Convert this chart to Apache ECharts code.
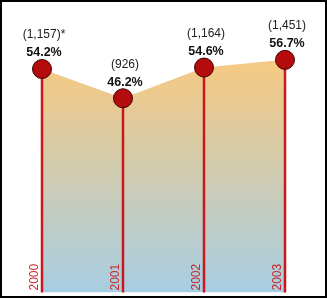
<!DOCTYPE html>
<html>
<head>
<meta charset="utf-8">
<script src="https://cdn.jsdelivr.net/npm/echarts@6/dist/echarts.min.js"></script>
<style>
html,body{margin:0;padding:0;background:#fff;}
#frame{position:absolute;left:0;top:0;width:327px;height:298px;border:2px solid #000;box-sizing:border-box;}
#chart{position:absolute;left:0;top:0;width:327px;height:300px;}
</style>
</head>
<body>
<div id="chart"></div>
<div id="frame"></div>
<script>
var years = ['2000', '2001', '2002', '2003'];
var percents = [54.2, 46.2, 54.6, 56.7];
var counts = ['(1,157)*', '(926)', '(1,164)', '(1,451)'];

var Y_MIN = -6.9, Y_MAX = 67.6;
var chart = echarts.init(document.getElementById('chart'), null, {renderer: 'canvas'});
var font = '"Liberation Sans", Arial, sans-serif';

chart.setOption({
  animation: false,
  grid: {left: 42, right: 42, top: 20, bottom: 7.5},
  xAxis: {
    type: 'category', data: years, boundaryGap: false,
    axisLine: {show: false}, axisTick: {show: false}, axisLabel: {show: false}, splitLine: {show: false}
  },
  yAxis: {
    type: 'value', min: Y_MIN, max: Y_MAX,
    axisLine: {show: false}, axisTick: {show: false}, axisLabel: {show: false}, splitLine: {show: false}
  },
  series: [
    {
      type: 'line', data: percents, z: 1, symbol: 'none',
      lineStyle: {width: 0},
      areaStyle: {
        origin: 'start', opacity: 1,
        color: new echarts.graphic.LinearGradient(0, 0, 0, 1, [
          {offset: 0, color: '#f6c981'},
          {offset: 1, color: '#a8cee3'}
        ])
      }
    },
    {
      type: 'custom', z: 2,
      data: percents.map(function (v, i) { return [i, v]; }),
      renderItem: function (params, api) {
        var top = api.coord([api.value(0), api.value(1)]);
        var bot = api.coord([api.value(0), Y_MIN]);
        return {
          type: 'group',
          children: [
            {type: 'line', shape: {x1: top[0], y1: top[1], x2: bot[0], y2: bot[1]},
             style: {stroke: '#c8181c', lineWidth: 2.5}},
            {type: 'text', x: top[0] - 7.5, y: bot[1] - 2, rotation: Math.PI / 2,
             style: {text: years[params.dataIndex], fill: '#c8282c', font: '12px ' + font,
                     align: 'left', verticalAlign: 'middle'}}
          ]
        };
      }
    },
    {
      type: 'line', data: percents, z: 3,
      symbol: 'circle', symbolSize: 19,
      lineStyle: {width: 0, opacity: 0},
      itemStyle: {color: '#b40c0c', borderColor: '#420000', borderWidth: 1},
      label: {
        show: true, position: 'top', distance: -3, offset: [2, 0],
        formatter: function (p) { return '{a|' + counts[p.dataIndex] + '}\n{b|' + p.value + '%}'; },
        rich: {
          a: {fontFamily: font, fontSize: 12, color: '#222', lineHeight: 18},
          b: {fontFamily: font, fontSize: 12.5, fontWeight: 'bold', color: '#111', lineHeight: 18}
        }
      }
    }
  ]
});
</script>
</body>
</html>
